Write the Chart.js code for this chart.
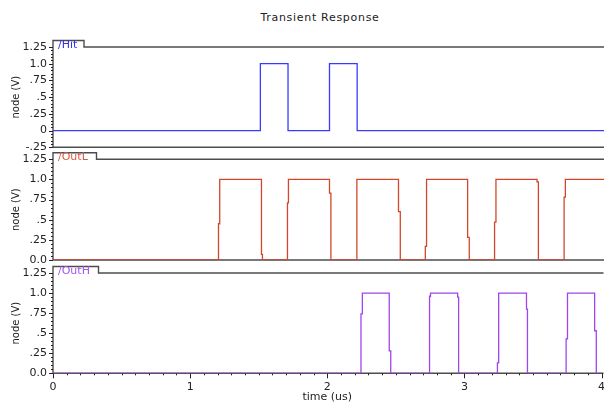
<!DOCTYPE html>
<html>
<head>
<meta charset="utf-8">
<script src="https://cdn.jsdelivr.net/npm/chart.js@4.4.1/dist/chart.umd.min.js"></script>
<style>
  html, body { margin: 0; padding: 0; background: #fff; overflow: hidden; width: 604px; height: 404px; }
  #wrap { position: relative; width: 612px; height: 404px; }
  #wrap canvas { position: absolute; left: 0; top: 0; }
  #title { position: absolute; left: 220px; width: 200px; top: 11px; text-align: center;
           font: 11px "DejaVu Sans", sans-serif; letter-spacing: 0.7px; color: #222; line-height: 13px; }
</style>
</head>
<body>
<div id="wrap">
  <div id="title">Transient Response</div>
  <canvas id="c1" width="612" height="404"></canvas>
  <canvas id="c2" width="612" height="404"></canvas>
  <canvas id="c3" width="612" height="404"></canvas>
</div>
<script>
// ---- data (time in us, voltage in V) ----
const chartTitle = 'Transient Response';
const xTitle = 'time (us)';
const yTitle = 'node (V)';
const timeTicks = [0, 1, 2, 3, 4];

const hitTime = [0, 1.5, 1.5, 1.7, 1.7, 2.0, 2.0, 2.2, 2.2, 4];
const hitVolt = [0, 0, 1, 1, 0, 0, 1, 1, 0, 0];

const outLTime = [0,
  1.197, 1.197, 1.206, 1.206, 1.508, 1.508, 1.515, 1.515,
  1.696, 1.696, 1.703, 1.703, 2.000, 2.000, 2.010, 2.010,
  2.198, 2.198, 2.499, 2.499, 2.512, 2.512,
  2.693, 2.693, 2.702, 2.702, 2.999, 2.999, 3.011, 3.011,
  3.194, 3.194, 3.204, 3.204, 3.501, 3.501, 3.511, 3.511,
  3.697, 3.697, 3.706, 3.706, 4];
const outLVolt = [0,
  0, 0.45, 0.45, 1, 1, 0.07, 0.07, 0,
  0, 0.71, 0.71, 1, 1, 0.83, 0.83, 0,
  0, 1, 1, 0.60, 0.60, 0,
  0, 0.17, 0.17, 1, 1, 0.28, 0.28, 0,
  0, 0.47, 0.47, 1, 1, 0.97, 0.97, 0,
  0, 0.78, 0.78, 1, 1];

const outHTime = [0,
  2.246, 2.246, 2.256, 2.256, 2.452, 2.452, 2.463, 2.463,
  2.746, 2.746, 2.753, 2.753, 2.951, 2.951, 2.958, 2.958,
  3.241, 3.241, 3.250, 3.250, 3.453, 3.453, 3.460, 3.460,
  3.742, 3.742, 3.752, 3.752, 3.950, 3.950, 3.962, 3.962, 4];
const outHVolt = [0,
  0, 0.74, 0.74, 1, 1, 0.28, 0.28, 0,
  0, 0.96, 0.96, 1, 1, 0.95, 0.95, 0,
  0, 0.13, 0.13, 1, 1, 0.80, 0.80, 0,
  0, 0.43, 0.43, 1, 1, 0.53, 0.53, 0, 0];

const yLabelsHit = ['-.25', '0', '.25', '.5', '.75', '1.0', '1.25'];
const yLabelsOut = ['0.0', '.25', '.5', '.75', '1.0', '1.25'];
const seriesNames = ['/Hit', '/OutL', '/OutH'];

// ---- drawing helpers ----
const FONT = '"DejaVu Sans", sans-serif';

const framePlugin = {
  id: 'frame',
  beforeDatasetsDraw(chart, args, opts) {
    const { ctx, chartArea: a } = chart;
    const y = chart.scales.y, x = chart.scales.x;
    ctx.save();
    // panel frame with legend tab
    const tabTop = a.top - 6.5;
    const tabRight = a.left + opts.tabWidth;
    ctx.strokeStyle = '#4d4d4d';
    ctx.lineWidth = 1.4;
    ctx.beginPath();
    ctx.moveTo(a.left, a.bottom);
    ctx.lineTo(a.left, tabTop);
    ctx.lineTo(tabRight, tabTop);
    ctx.lineTo(tabRight, a.top);
    ctx.lineTo(a.right + 2, a.top);
    ctx.moveTo(a.left, a.bottom);
    ctx.lineTo(a.right + 2, a.bottom);
    ctx.stroke();
    // y tick marks (major every .25, minor every .05)
    ctx.strokeStyle = '#222';
    ctx.lineWidth = 1;
    const n = Math.round((y.max - y.min) / 0.05);
    ctx.beginPath();
    for (let i = 0; i <= n; i++) {
      const v = y.min + i * 0.05;
      const py = Math.round(y.getPixelForValue(v)) + 0.5;
      const len = (i % 5 === 0) ? 4 : 2;
      ctx.moveTo(a.left - len, py);
      ctx.lineTo(a.left, py);
    }
    ctx.stroke();
    // x tick marks on the bottom panel
    if (opts.xTicks) {
      const m = Math.round((x.max - x.min) / 0.1);
      ctx.beginPath();
      for (let i = 0; i <= m; i++) {
        const v = x.min + i * 0.1;
        const px = Math.round(x.getPixelForValue(v)) + 0.5;
        const len = (i % 10 === 0) ? 5 : 2;
        ctx.moveTo(px, a.bottom);
        ctx.lineTo(px, a.bottom + len);
      }
      ctx.stroke();
    }
    ctx.restore();
  },
  afterDraw(chart, args, opts) {
    const { ctx, chartArea: a } = chart;
    ctx.save();
    ctx.font = '11px ' + FONT;
    ctx.fillStyle = opts.labelColor;
    ctx.textBaseline = 'middle';
    ctx.textAlign = 'left';
    ctx.fillText(opts.label, a.left + 5, a.top - 2);
    ctx.restore();
  }
};

function makeChart(id, cfg) {
  const data = cfg.time.map((t, i) => ({ x: t, y: cfg.volt[i] }));
  const xScale = {
    type: 'linear', min: timeTicks[0], max: timeTicks[timeTicks.length - 1],
    display: cfg.showX,
    grid: { display: false, drawTicks: false },
    border: { display: false },
    ticks: {
      stepSize: 1, padding: 7, color: '#222', maxRotation: 0,
      font: { family: FONT, size: 11 },
      callback: (v) => timeTicks.includes(v) ? String(v) : ''
    },
    title: { display: cfg.showX, text: xTitle, color: '#222',
             font: { family: FONT, size: 11 }, padding: { top: 0, bottom: 0 } }
  };
  if (cfg.showX) xScale.afterFit = (s) => { s.height = 30.7; };
  return new Chart(document.getElementById(id), {
    type: 'line',
    data: { datasets: [{
      label: cfg.name, data,
      borderColor: cfg.color, borderWidth: 1.3,
      pointRadius: 0, tension: 0, fill: false
    }] },
    plugins: [framePlugin],
    options: {
      responsive: false, animation: false, devicePixelRatio: 1,
      layout: { padding: { left: 0, right: 6, top: cfg.top, bottom: cfg.bottom } },
      plugins: {
        legend: { display: false }, tooltip: { enabled: false }, title: { display: false },
        frame: { tabWidth: cfg.tabWidth, label: cfg.name, labelColor: cfg.labelColor, xTicks: cfg.showX }
      },
      scales: {
        x: xScale,
        y: {
          type: 'linear', min: cfg.yMin, max: 1.25,
          afterFit: (s) => { s.width = 53; },
          grid: { display: false, drawTicks: false },
          border: { display: false },
          ticks: {
            stepSize: 0.25, padding: 6, color: '#222',
            font: { family: FONT, size: 11 },
            callback: (v, i) => cfg.yLabels[i]
          },
          title: { display: true, text: yTitle, color: '#222',
                   font: { family: FONT, size: 10 }, padding: { top: 10, bottom: 0 } }
        }
      }
    }
  });
}

makeChart('c1', { name: seriesNames[0], time: hitTime, volt: hitVolt, color: '#3a3aff', labelColor: '#2f2ff0',
  yMin: -0.25, yLabels: yLabelsHit, top: 47, bottom: 256.7, showX: false, tabWidth: 31 });
makeChart('c2', { name: seriesNames[1], time: outLTime, volt: outLVolt, color: '#d2472b', labelColor: '#d65a40',
  yMin: 0, yLabels: yLabelsOut, top: 159.3, bottom: 144, showX: false, tabWidth: 43.5 });
makeChart('c3', { name: seriesNames[2], time: outHTime, volt: outHVolt, color: '#a044ee', labelColor: '#a055e8',
  yMin: 0, yLabels: yLabelsOut, top: 273, bottom: 0, showX: true, tabWidth: 45.5 });
</script>
</body>
</html>
